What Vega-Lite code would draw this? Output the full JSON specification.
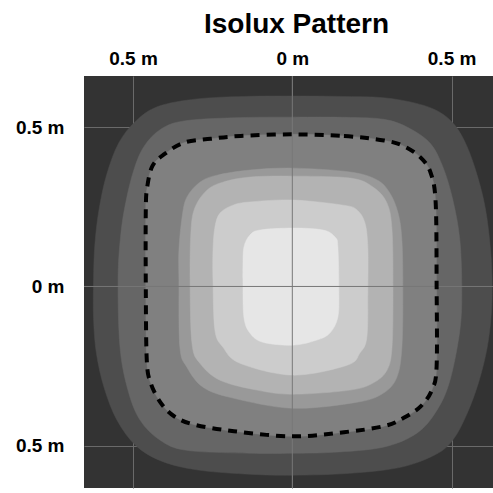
{
"$schema": "https://vega.github.io/schema/vega-lite/v6.json",
"width": 409, "height": 412,
"autosize": "none",
"padding": {"left": 84, "top": 76, "right": 0, "bottom": 5},
"background": "white",
"title": {"text": "Isolux Pattern", "font": "Liberation Sans", "fontSize": 28, "fontWeight": "bold", "color": "black", "anchor": "middle", "dx": 8, "offset": 10},
"config": {
  "view": {"fill": "#333333", "stroke": null},
  "axis": {"labelFont": "Liberation Sans", "labelFontSize": 19, "labelFontWeight": "bold", "labelColor": "black", "gridColor": "#6a6a6a", "gridWidth": 1, "ticks": false, "domain": false, "title": null}
},
"datasets": {
"c": [
{"lv":1,"i":1,"x":0,"y":0.597},{"lv":1,"i":2,"x":0.15,"y":0.596},{"lv":1,"i":3,"x":0.285,"y":0.592},{"lv":1,"i":4,"x":0.39,"y":0.574},{"lv":1,"i":5,"x":0.46,"y":0.548},{"lv":1,"i":6,"x":0.51,"y":0.506},{"lv":1,"i":7,"x":0.548,"y":0.44},{"lv":1,"i":8,"x":0.58,"y":0.35},{"lv":1,"i":9,"x":0.605,"y":0.25},{"lv":1,"i":10,"x":0.62,"y":0.14},{"lv":1,"i":11,"x":0.627,"y":0.03},{"lv":1,"i":12,"x":0.625,"y":-0.08},{"lv":1,"i":13,"x":0.612,"y":-0.19},{"lv":1,"i":14,"x":0.585,"y":-0.3},{"lv":1,"i":15,"x":0.548,"y":-0.4},{"lv":1,"i":16,"x":0.505,"y":-0.48},{"lv":1,"i":17,"x":0.45,"y":-0.527},{"lv":1,"i":18,"x":0.34,"y":-0.567},{"lv":1,"i":19,"x":0.18,"y":-0.586},{"lv":1,"i":20,"x":0,"y":-0.592},{"lv":1,"i":21,"x":-0.15,"y":-0.588},{"lv":1,"i":22,"x":-0.3,"y":-0.575},{"lv":1,"i":23,"x":-0.41,"y":-0.548},{"lv":1,"i":24,"x":-0.49,"y":-0.5},{"lv":1,"i":25,"x":-0.55,"y":-0.42},{"lv":1,"i":26,"x":-0.59,"y":-0.32},{"lv":1,"i":27,"x":-0.615,"y":-0.21},{"lv":1,"i":28,"x":-0.624,"y":-0.1},{"lv":1,"i":29,"x":-0.624,"y":0.02},{"lv":1,"i":30,"x":-0.62,"y":0.13},{"lv":1,"i":31,"x":-0.607,"y":0.24},{"lv":1,"i":32,"x":-0.583,"y":0.35},{"lv":1,"i":33,"x":-0.545,"y":0.45},{"lv":1,"i":34,"x":-0.49,"y":0.52},{"lv":1,"i":35,"x":-0.42,"y":0.565},{"lv":1,"i":36,"x":-0.3,"y":0.588},{"lv":1,"i":37,"x":-0.15,"y":0.596},
{"lv":2,"i":1,"x":0,"y":0.531},{"lv":2,"i":2,"x":0.183,"y":0.53},{"lv":2,"i":3,"x":0.288,"y":0.524},{"lv":2,"i":4,"x":0.36,"y":0.5},{"lv":2,"i":5,"x":0.432,"y":0.45},{"lv":2,"i":6,"x":0.473,"y":0.374},{"lv":2,"i":7,"x":0.504,"y":0.271},{"lv":2,"i":8,"x":0.526,"y":0.145},{"lv":2,"i":9,"x":0.532,"y":-0.012},{"lv":2,"i":10,"x":0.526,"y":-0.137},{"lv":2,"i":11,"x":0.495,"y":-0.294},{"lv":2,"i":12,"x":0.454,"y":-0.388},{"lv":2,"i":13,"x":0.391,"y":-0.46},{"lv":2,"i":14,"x":0.285,"y":-0.504},{"lv":2,"i":15,"x":0.128,"y":-0.52},{"lv":2,"i":16,"x":0,"y":-0.523},{"lv":2,"i":17,"x":-0.133,"y":-0.523},{"lv":2,"i":18,"x":-0.331,"y":-0.514},{"lv":2,"i":19,"x":-0.415,"y":-0.482},{"lv":2,"i":20,"x":-0.478,"y":-0.419},{"lv":2,"i":21,"x":-0.516,"y":-0.325},{"lv":2,"i":22,"x":-0.541,"y":-0.19},{"lv":2,"i":23,"x":-0.547,"y":0.02},{"lv":2,"i":24,"x":-0.539,"y":0.158},{"lv":2,"i":25,"x":-0.523,"y":0.263},{"lv":2,"i":26,"x":-0.497,"y":0.367},{"lv":2,"i":27,"x":-0.465,"y":0.44},{"lv":2,"i":28,"x":-0.413,"y":0.493},{"lv":2,"i":29,"x":-0.34,"y":0.519},{"lv":2,"i":30,"x":-0.183,"y":0.529},
{"lv":3,"i":1,"x":0,"y":0.477},{"lv":3,"i":2,"x":0.162,"y":0.472},{"lv":3,"i":3,"x":0.288,"y":0.458},{"lv":3,"i":4,"x":0.35,"y":0.44},{"lv":3,"i":5,"x":0.403,"y":0.404},{"lv":3,"i":6,"x":0.434,"y":0.357},{"lv":3,"i":7,"x":0.45,"y":0.263},{"lv":3,"i":8,"x":0.453,"y":0.001},{"lv":3,"i":9,"x":0.453,"y":-0.25},{"lv":3,"i":10,"x":0.439,"y":-0.323},{"lv":3,"i":11,"x":0.403,"y":-0.376},{"lv":3,"i":12,"x":0.35,"y":-0.412},{"lv":3,"i":13,"x":0.288,"y":-0.438},{"lv":3,"i":14,"x":0.162,"y":-0.457},{"lv":3,"i":15,"x":0,"y":-0.47},{"lv":3,"i":16,"x":-0.183,"y":-0.454},{"lv":3,"i":17,"x":-0.309,"y":-0.433},{"lv":3,"i":18,"x":-0.371,"y":-0.407},{"lv":3,"i":19,"x":-0.413,"y":-0.365},{"lv":3,"i":20,"x":-0.445,"y":-0.302},{"lv":3,"i":21,"x":-0.457,"y":-0.229},{"lv":3,"i":22,"x":-0.46,"y":0.001},{"lv":3,"i":23,"x":-0.46,"y":0.242},{"lv":3,"i":24,"x":-0.455,"y":0.315},{"lv":3,"i":25,"x":-0.439,"y":0.378},{"lv":3,"i":26,"x":-0.403,"y":0.414},{"lv":3,"i":27,"x":-0.34,"y":0.451},{"lv":3,"i":28,"x":-0.256,"y":0.463},{"lv":3,"i":29,"x":-0.162,"y":0.472},
{"lv":4,"i":1,"x":0.002,"y":0.371},{"lv":4,"i":2,"x":0.181,"y":0.359},{"lv":4,"i":3,"x":0.266,"y":0.334},{"lv":4,"i":4,"x":0.306,"y":0.293},{"lv":4,"i":5,"x":0.332,"y":0.23},{"lv":4,"i":6,"x":0.344,"y":0.145},{"lv":4,"i":7,"x":0.347,"y":-0.012},{"lv":4,"i":8,"x":0.344,"y":-0.19},{"lv":4,"i":9,"x":0.328,"y":-0.285},{"lv":4,"i":10,"x":0.285,"y":-0.335},{"lv":4,"i":11,"x":0.203,"y":-0.363},{"lv":4,"i":12,"x":0.002,"y":-0.382},{"lv":4,"i":13,"x":-0.186,"y":-0.35},{"lv":4,"i":14,"x":-0.28,"y":-0.316},{"lv":4,"i":15,"x":-0.331,"y":-0.253},{"lv":4,"i":16,"x":-0.353,"y":-0.19},{"lv":4,"i":17,"x":-0.356,"y":0.02},{"lv":4,"i":18,"x":-0.356,"y":0.114},{"lv":4,"i":19,"x":-0.346,"y":0.218},{"lv":4,"i":20,"x":-0.331,"y":0.28},{"lv":4,"i":21,"x":-0.29,"y":0.327},{"lv":4,"i":22,"x":-0.236,"y":0.349},{"lv":4,"i":23,"x":-0.133,"y":0.365},
{"lv":5,"i":1,"x":0.002,"y":0.346},{"lv":5,"i":2,"x":0.181,"y":0.34},{"lv":5,"i":3,"x":0.253,"y":0.312},{"lv":5,"i":4,"x":0.297,"y":0.262},{"lv":5,"i":5,"x":0.313,"y":0.177},{"lv":5,"i":6,"x":0.316,"y":-0.012},{"lv":5,"i":7,"x":0.313,"y":-0.19},{"lv":5,"i":8,"x":0.297,"y":-0.263},{"lv":5,"i":9,"x":0.253,"y":-0.303},{"lv":5,"i":10,"x":0.181,"y":-0.325},{"lv":5,"i":11,"x":0.002,"y":-0.338},{"lv":5,"i":12,"x":-0.111,"y":-0.325},{"lv":5,"i":13,"x":-0.227,"y":-0.294},{"lv":5,"i":14,"x":-0.29,"y":-0.241},{"lv":5,"i":15,"x":-0.315,"y":-0.178},{"lv":5,"i":16,"x":-0.321,"y":0.02},{"lv":5,"i":17,"x":-0.318,"y":0.177},{"lv":5,"i":18,"x":-0.305,"y":0.249},{"lv":5,"i":19,"x":-0.268,"y":0.302},{"lv":5,"i":20,"x":-0.218,"y":0.327},{"lv":5,"i":21,"x":-0.133,"y":0.343},
{"lv":6,"i":1,"x":0.002,"y":0.271},{"lv":6,"i":2,"x":0.159,"y":0.255},{"lv":6,"i":3,"x":0.203,"y":0.24},{"lv":6,"i":4,"x":0.228,"y":0.199},{"lv":6,"i":5,"x":0.237,"y":0.123},{"lv":6,"i":6,"x":0.237,"y":-0.012},{"lv":6,"i":7,"x":0.234,"y":-0.159},{"lv":6,"i":8,"x":0.212,"y":-0.209},{"lv":6,"i":9,"x":0.172,"y":-0.247},{"lv":6,"i":10,"x":0.002,"y":-0.278},{"lv":6,"i":11,"x":-0.164,"y":-0.241},{"lv":6,"i":12,"x":-0.218,"y":-0.19},{"lv":6,"i":13,"x":-0.243,"y":-0.137},{"lv":6,"i":14,"x":-0.249,"y":0.02},{"lv":6,"i":15,"x":-0.249,"y":0.114},{"lv":6,"i":16,"x":-0.243,"y":0.186},{"lv":6,"i":17,"x":-0.227,"y":0.23},{"lv":6,"i":18,"x":-0.186,"y":0.255},{"lv":6,"i":19,"x":-0.133,"y":0.265},
{"lv":7,"i":1,"x":0.002,"y":0.183},{"lv":7,"i":2,"x":0.096,"y":0.177},{"lv":7,"i":3,"x":0.134,"y":0.155},{"lv":7,"i":4,"x":0.143,"y":0.123},{"lv":7,"i":5,"x":0.146,"y":-0.012},{"lv":7,"i":6,"x":0.143,"y":-0.096},{"lv":7,"i":7,"x":0.118,"y":-0.146},{"lv":7,"i":8,"x":0.077,"y":-0.168},{"lv":7,"i":9,"x":0.002,"y":-0.184},{"lv":7,"i":10,"x":-0.092,"y":-0.175},{"lv":7,"i":11,"x":-0.133,"y":-0.146},{"lv":7,"i":12,"x":-0.152,"y":-0.096},{"lv":7,"i":13,"x":-0.155,"y":0.02},{"lv":7,"i":14,"x":-0.155,"y":0.061},{"lv":7,"i":15,"x":-0.152,"y":0.123},{"lv":7,"i":16,"x":-0.133,"y":0.161},{"lv":7,"i":17,"x":-0.101,"y":0.177}
]
},
"layer": [
{"data": {"name": "c"}, "transform": [{"filter": "datum.lv == 1"}],
 "mark": {"type": "line", "interpolate": "cardinal-closed", "fill": "#4d4d4d", "stroke": "#4d4d4d", "strokeWidth": 0.5},
 "encoding": {
  "x": {"field": "x", "type": "quantitative", "scale": {"domain": [-0.654, 0.63], "nice": false, "zero": false}, "axis": {"orient": "top", "values": [-0.5, 0, 0.5], "labelExpr": "abs(datum.value) + ' m'", "grid": true, "labelPadding": 8}},
  "y": {"field": "y", "type": "quantitative", "scale": {"domain": [-0.632, 0.66], "nice": false, "zero": false}, "axis": {"values": [-0.5, 0, 0.5], "labelExpr": "abs(datum.value) + ' m'", "grid": true, "labelPadding": 20}},
  "order": {"field": "i"}}},
{"data": {"name": "c"}, "transform": [{"filter": "datum.lv == 2"}],
 "mark": {"type": "line", "interpolate": "cardinal-closed", "fill": "#666666", "stroke": "#666666", "strokeWidth": 0.5},
 "encoding": {"x": {"field": "x", "type": "quantitative"}, "y": {"field": "y", "type": "quantitative"}, "order": {"field": "i"}}},
{"data": {"name": "c"}, "transform": [{"filter": "datum.lv == 3"}],
 "mark": {"type": "line", "interpolate": "cardinal-closed", "fill": "#808080", "stroke": "#808080", "strokeWidth": 0.5},
 "encoding": {"x": {"field": "x", "type": "quantitative"}, "y": {"field": "y", "type": "quantitative"}, "order": {"field": "i"}}},
{"data": {"name": "c"}, "transform": [{"filter": "datum.lv == 4"}],
 "mark": {"type": "line", "interpolate": "cardinal-closed", "fill": "#999999", "stroke": "#999999", "strokeWidth": 0.5},
 "encoding": {"x": {"field": "x", "type": "quantitative"}, "y": {"field": "y", "type": "quantitative"}, "order": {"field": "i"}}},
{"data": {"name": "c"}, "transform": [{"filter": "datum.lv == 5"}],
 "mark": {"type": "line", "interpolate": "cardinal-closed", "fill": "#b3b3b3", "stroke": "#b3b3b3", "strokeWidth": 0.5},
 "encoding": {"x": {"field": "x", "type": "quantitative"}, "y": {"field": "y", "type": "quantitative"}, "order": {"field": "i"}}},
{"data": {"name": "c"}, "transform": [{"filter": "datum.lv == 6"}],
 "mark": {"type": "line", "interpolate": "cardinal-closed", "fill": "#cccccc", "stroke": "#cccccc", "strokeWidth": 0.5},
 "encoding": {"x": {"field": "x", "type": "quantitative"}, "y": {"field": "y", "type": "quantitative"}, "order": {"field": "i"}}},
{"data": {"name": "c"}, "transform": [{"filter": "datum.lv == 7"}],
 "mark": {"type": "line", "interpolate": "cardinal-closed", "fill": "#e6e6e6", "stroke": "#e6e6e6", "strokeWidth": 0.5},
 "encoding": {"x": {"field": "x", "type": "quantitative"}, "y": {"field": "y", "type": "quantitative"}, "order": {"field": "i"}}},
{"data": {"values": [{}]}, "mark": {"type": "rule", "color": "#777777", "strokeWidth": 1},
 "encoding": {"x": {"datum": 0, "type": "quantitative"}}},
{"data": {"values": [{}]}, "mark": {"type": "rule", "color": "#777777", "strokeWidth": 1},
 "encoding": {"y": {"datum": 0, "type": "quantitative"}}},
{"data": {"name": "c"}, "transform": [{"filter": "datum.lv == 3"}],
 "mark": {"type": "line", "interpolate": "cardinal-closed", "color": "black", "strokeWidth": 4, "strokeDash": [9, 7]},
 "encoding": {"x": {"field": "x", "type": "quantitative"}, "y": {"field": "y", "type": "quantitative"}, "order": {"field": "i"}}}
]
}
